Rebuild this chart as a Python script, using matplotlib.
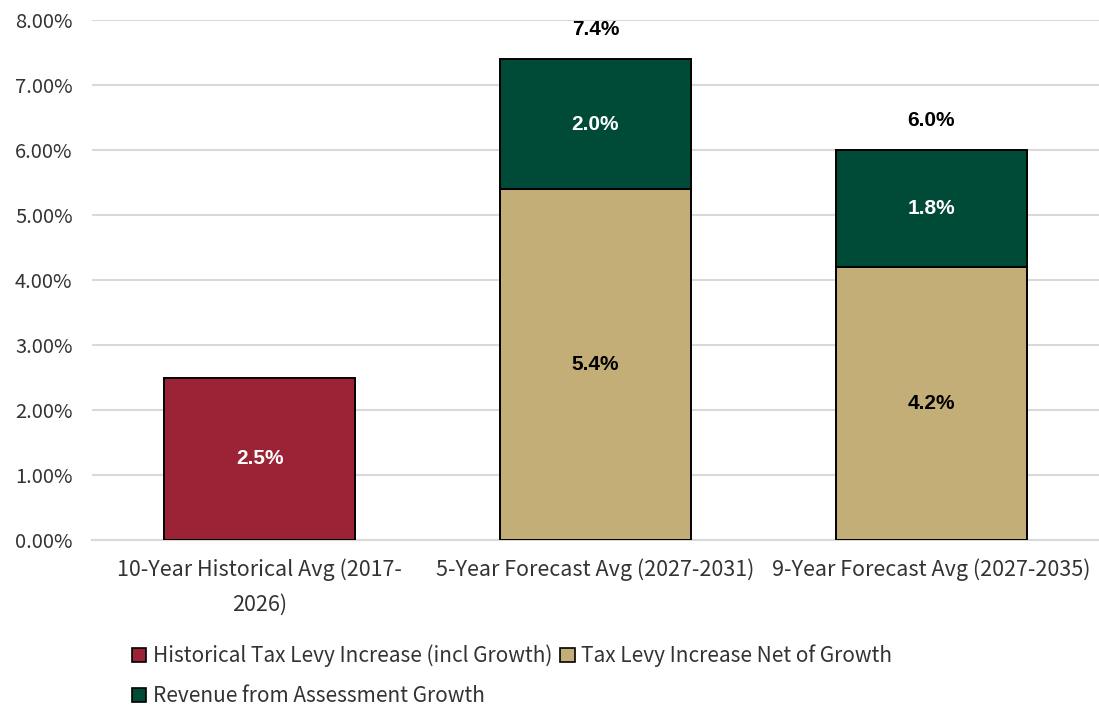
import matplotlib
matplotlib.use("Agg")
import matplotlib.pyplot as plt
from matplotlib.patches import Patch
from matplotlib.ticker import PercentFormatter

categories = ["10-Year Historical Avg (2017-\n2026)",
              "5-Year Forecast Avg (2027-2031)",
              "9-Year Forecast Avg (2027-2035)"]
historical = [2.5, 0, 0]
net_growth = [0, 5.4, 4.2]
assessment = [0, 2.0, 1.8]

c_hist = "#9b2335"
c_net = "#c4ae78"
c_assess = "#004b38"
grid_c = "#d9d9d9"
txt_font = ["Noto Sans CJK JP", "DejaVu Sans"]
lbl_font = "Liberation Sans"

fig = plt.figure(figsize=(10.99, 7.10), dpi=100)
ax = fig.add_axes([92 / 1099, 1 - 540 / 710, 1007 / 1099, 520 / 710])

x = range(len(categories))
w = 0.57
ax.bar(x, historical, w, color=c_hist, edgecolor="black", linewidth=1.4, zorder=3)
ax.bar(x, net_growth, w, color=c_net, edgecolor="black", linewidth=1.4, zorder=3)
ax.bar(x, assessment, w, bottom=net_growth, color=c_assess, edgecolor="black",
       linewidth=1.4, zorder=3)

# segment labels
lbl = dict(ha="center", va="center", fontsize=15, fontweight="bold", family=lbl_font, zorder=4)
for i in x:
    if historical[i]:
        ax.text(i, historical[i] / 2, f"{historical[i]:.1f}%", color="white", **lbl)
    if net_growth[i]:
        ax.text(i, net_growth[i] / 2, f"{net_growth[i]:.1f}%", color="black", **lbl)
    if assessment[i]:
        ax.text(i, net_growth[i] + assessment[i] / 2, f"{assessment[i]:.1f}%",
                color="white", **lbl)
        total = net_growth[i] + assessment[i]
        ax.text(i, total + 0.45, f"{total:.1f}%", color="black", **lbl)

ax.set_xlim(-0.5, 2.5)
ax.set_ylim(0, 8)
ax.set_yticks(range(0, 9))
ax.yaxis.set_major_formatter(PercentFormatter(decimals=2))
ax.set_xticks(list(x))
ax.set_xticklabels(categories, linespacing=1.75)
ax.grid(axis="y", color=grid_c, linewidth=1.5, zorder=0)
for s in ["top", "right", "left"]:
    ax.spines[s].set_visible(False)
ax.spines["bottom"].set_color(grid_c)
ax.spines["bottom"].set_linewidth(1.5)
ax.tick_params(length=0)
ax.tick_params(axis="x", labelsize=15.5, pad=13)
ax.tick_params(axis="y", labelsize=14.5, pad=14)
for t in ax.get_xticklabels() + ax.get_yticklabels():
    t.set_family(txt_font)
    t.set_color("#333333")

handles = [Patch(facecolor=c_hist, edgecolor="black", linewidth=1.2,
                 label="Historical Tax Levy Increase (incl Growth)"),
           Patch(facecolor=c_assess, edgecolor="black", linewidth=1.2,
                 label="Revenue from Assessment Growth"),
           Patch(facecolor=c_net, edgecolor="black", linewidth=1.2,
                 label="Tax Levy Increase Net of Growth")]
fig.legend(handles=handles, ncol=2, loc="upper left", bbox_to_anchor=(113 / 1099, 1 - 626 / 710),
           frameon=False, prop={"family": txt_font, "size": 15}, handlelength=0.7,
           handleheight=0.7, handletextpad=0.3, columnspacing=0.4, labelspacing=0.85,
           labelcolor="#333333")

fig.savefig("out.png", dpi=100)
